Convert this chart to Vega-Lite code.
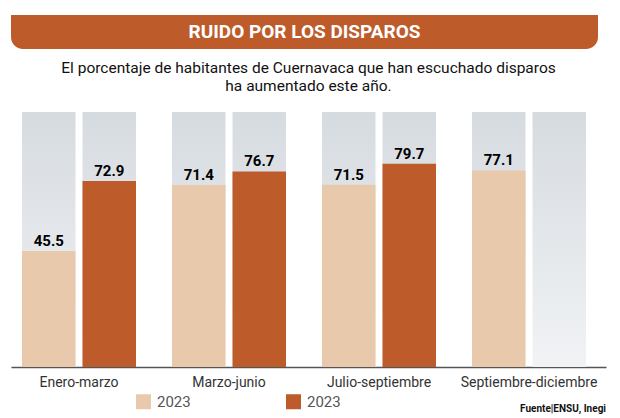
{
  "$schema": "https://vega.github.io/schema/vega-lite/v6.json",
  "background": "white",
  "padding": {"left": 11, "top": 15, "right": 5, "bottom": 0},
  "spacing": 11,
  "config": {
    "view": {"stroke": null},
    "font": "Roboto, sans-serif"
  },
  "title": {
    "text": "Fuente|ENSU, Inegi",
    "orient": "bottom",
    "anchor": "end",
    "fontSize": 10,
    "fontWeight": "bold",
    "color": "#111",
    "offset": -6
  },
  "vconcat": [
    {
      "width": 587,
      "height": 34,
      "data": {"values": [{"titulo": "RUIDO POR LOS DISPAROS"}]},
      "layer": [
        {
          "mark": {"type": "rect", "color": "#BE5B2B", "cornerRadiusBottomLeft": 12, "cornerRadiusBottomRight": 12},
          "encoding": {}
        },
        {
          "mark": {"type": "text", "color": "white", "fontSize": 19, "fontWeight": "bold"},
          "encoding": {"text": {"field": "titulo"}}
        }
      ]
    },
    {
      "width": 595,
      "height": 255,
      "title": {
        "text": ["El porcentaje de habitantes de Cuernavaca que han escuchado disparos", "ha aumentado este año."],
        "fontSize": 15.5,
        "fontWeight": "normal",
        "color": "#111",
        "lineHeight": 18,
        "offset": 18,
        "anchor": "middle"
      },
      "data": {
        "values": [
          {"periodo": "Enero-marzo", "serie": "a", "valor": 45.5},
          {"periodo": "Enero-marzo", "serie": "b", "valor": 72.9},
          {"periodo": "Marzo-junio", "serie": "a", "valor": 71.4},
          {"periodo": "Marzo-junio", "serie": "b", "valor": 76.7},
          {"periodo": "Julio-septiembre", "serie": "a", "valor": 71.5},
          {"periodo": "Julio-septiembre", "serie": "b", "valor": 79.7},
          {"periodo": "Septiembre-diciembre", "serie": "a", "valor": 77.1},
          {"periodo": "Septiembre-diciembre", "serie": "b", "valor": null}
        ]
      },
      "encoding": {
        "x": {
          "field": "periodo",
          "type": "nominal",
          "sort": null,
          "scale": {"paddingInner": 0.24, "paddingOuter": 0.1033, "align": 0.355},
          "axis": {
            "title": null,
            "labelAngle": 0,
            "labelFontSize": 14,
            "labelColor": "#333",
            "ticks": false,
            "labelPadding": 8,
            "domainColor": "#555",
            "domainWidth": 1.5
          }
        },
        "xOffset": {
          "field": "serie",
          "type": "nominal",
          "scale": {"paddingInner": 0.1157, "paddingOuter": 0}
        }
      },
      "layer": [
        {
          "mark": {
            "type": "bar",
            "color": {
              "gradient": "linear",
              "x1": 0, "y1": 0, "x2": 0, "y2": 1,
              "stops": [
                {"offset": 0, "color": "#D6DBE0"},
                {"offset": 1, "color": "#F1F3F5"}
              ]
            }
          },
          "encoding": {
            "y": {"datum": 100, "type": "quantitative", "scale": {"domain": [0, 100]}, "axis": null}
          }
        },
        {
          "transform": [{"filter": "datum.valor != null"}],
          "mark": {"type": "bar"},
          "encoding": {
            "y": {"field": "valor", "type": "quantitative", "scale": {"domain": [0, 100]}, "axis": null},
            "color": {
              "field": "serie",
              "type": "nominal",
              "scale": {"domain": ["a", "b"], "range": ["#E8C9AC", "#BE5B2B"]},
              "legend": {
                "title": null,
                "orient": "none",
                "legendX": 125,
                "legendY": 379,
                "direction": "horizontal",
                "symbolType": "square",
                "symbolSize": 225,
                "symbolStrokeWidth": 0,
                "labelFontSize": 15,
                "labelColor": "#555",
                "labelOffset": 6,
                "columnPadding": 95,
                "labelExpr": "'2023'"
              }
            }
          }
        },
        {
          "transform": [{"filter": "datum.valor != null"}],
          "mark": {"type": "text", "baseline": "bottom", "dy": -2, "fontSize": 15, "fontWeight": "bold", "color": "#000"},
          "encoding": {
            "y": {"field": "valor", "type": "quantitative"},
            "text": {"field": "valor", "type": "quantitative", "format": ".1f"}
          }
        }
      ]
    }
  ]
}
